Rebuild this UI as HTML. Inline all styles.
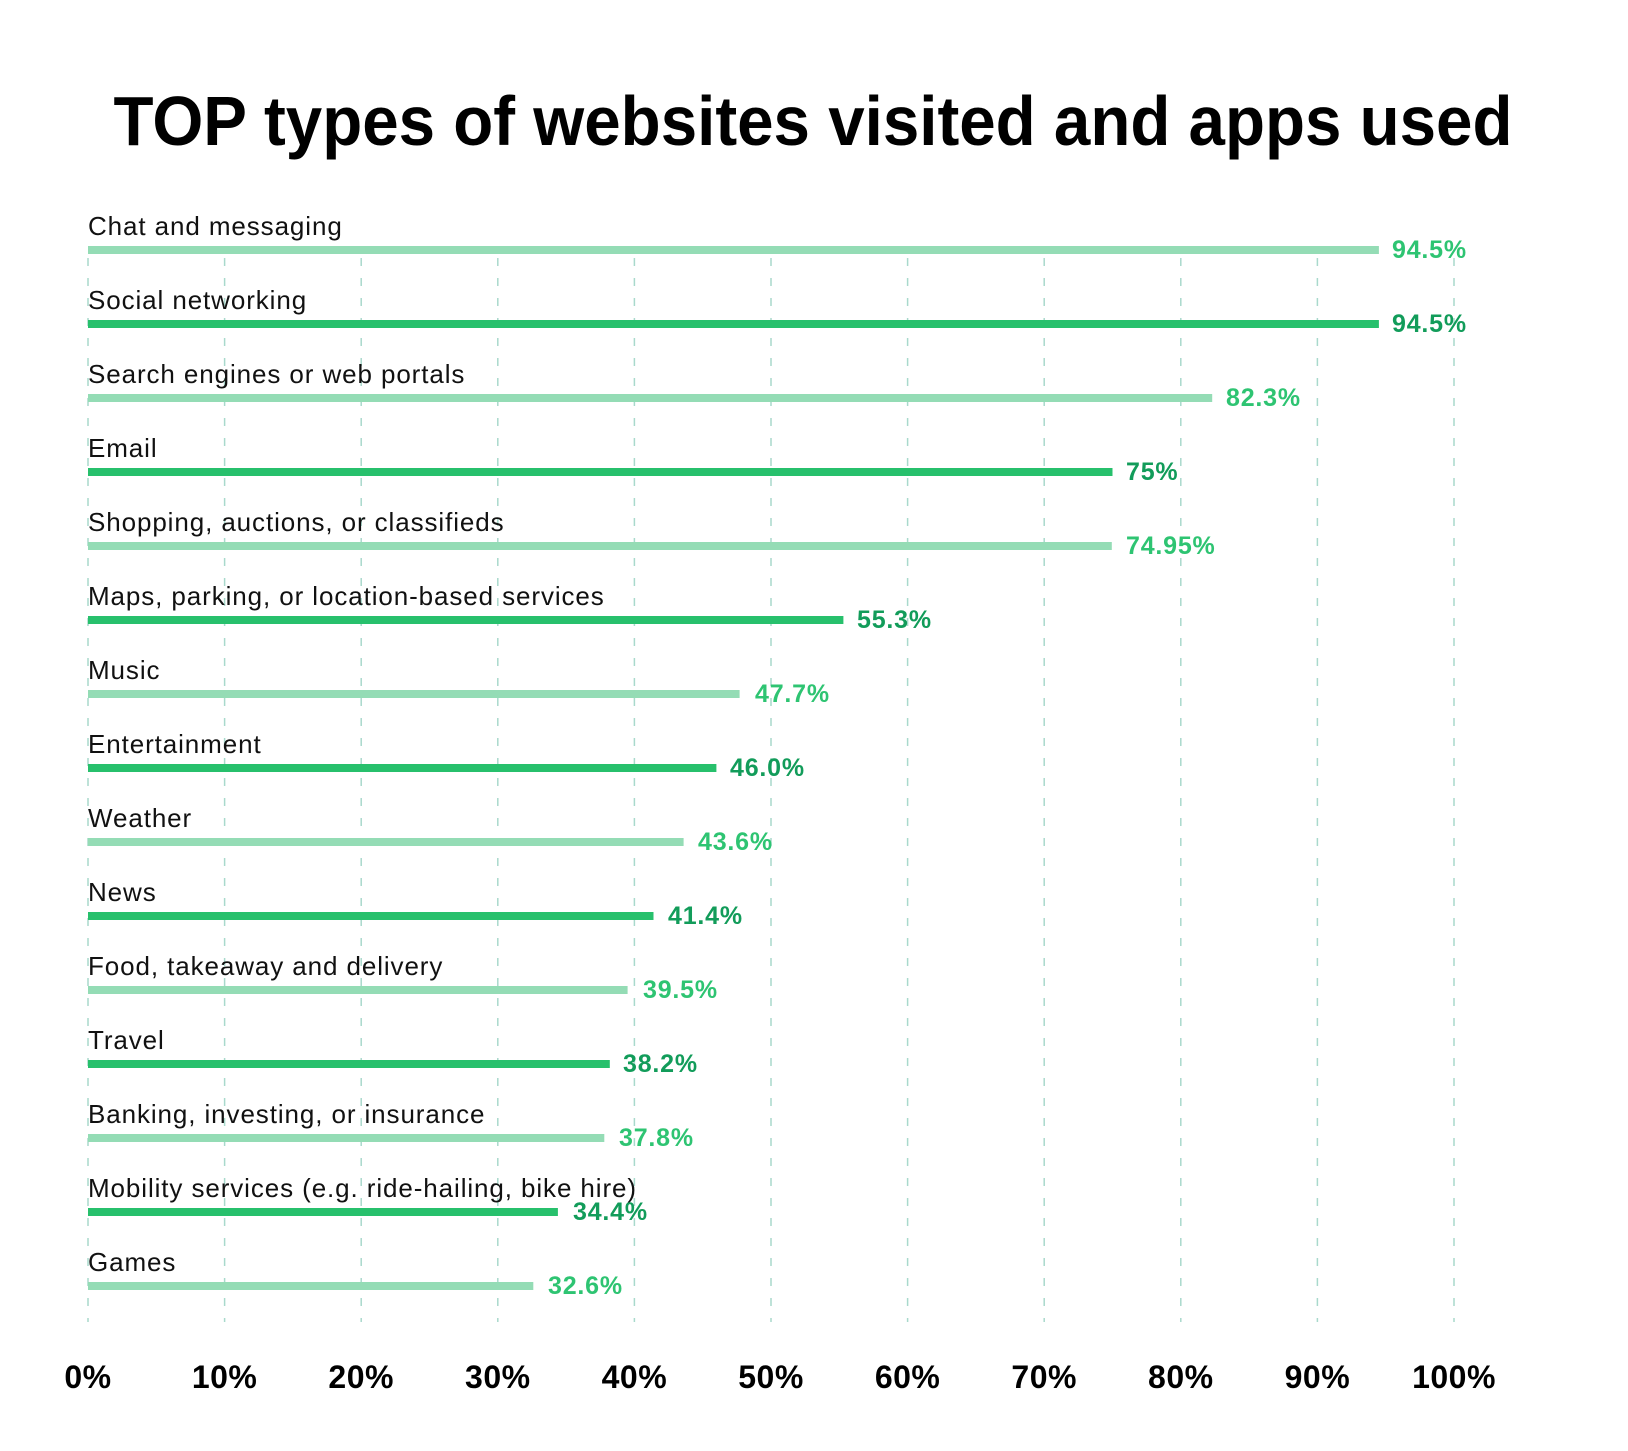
<!DOCTYPE html>
<html><head><meta charset="utf-8"><style>
html,body{margin:0;padding:0;background:#fff}
svg{display:block}
.l{font-family:"Liberation Sans",sans-serif;font-size:26px;letter-spacing:0.9px;fill:#111}
.v{font-family:"Liberation Sans",sans-serif;font-size:25px;font-weight:bold;letter-spacing:0.8px}
.a{font-family:"Liberation Sans",sans-serif;font-size:32px;font-weight:bold;fill:#000;text-anchor:middle;letter-spacing:0.5px}
.lt{fill:#2ec472}.dk{fill:#129c5a}
</style></head><body>
<svg width="1628" height="1451" viewBox="0 0 1628 1451" xmlns="http://www.w3.org/2000/svg">
<text x="813" y="145" text-anchor="middle" font-family="Liberation Sans, sans-serif" font-weight="bold" font-size="70" textLength="1399" lengthAdjust="spacingAndGlyphs" fill="#000">TOP types of websites visited and apps used</text>
<g stroke="#a9d9cc" stroke-width="1.5" stroke-dasharray="8 12">
<line x1="88" y1="258" x2="88" y2="1322"/><line x1="224.6" y1="258" x2="224.6" y2="1322"/><line x1="361.2" y1="258" x2="361.2" y2="1322"/><line x1="497.8" y1="258" x2="497.8" y2="1322"/><line x1="634.4" y1="258" x2="634.4" y2="1322"/><line x1="771" y1="258" x2="771" y2="1322"/><line x1="907.6" y1="258" x2="907.6" y2="1322"/><line x1="1044.2" y1="258" x2="1044.2" y2="1322"/><line x1="1180.8" y1="258" x2="1180.8" y2="1322"/><line x1="1317.4" y1="258" x2="1317.4" y2="1322"/><line x1="1454" y1="258" x2="1454" y2="1322"/>
</g>
<g>
<rect x="88" y="246" width="1290.9" height="8" fill="#94dcb5"/>
<rect x="88" y="320" width="1290.9" height="8" fill="#27c06c"/>
<rect x="88" y="394" width="1124.2" height="8" fill="#94dcb5"/>
<rect x="88" y="468" width="1024.5" height="8" fill="#27c06c"/>
<rect x="88" y="542" width="1023.8" height="8" fill="#94dcb5"/>
<rect x="88" y="616" width="755.4" height="8" fill="#27c06c"/>
<rect x="88" y="690" width="651.6" height="8" fill="#94dcb5"/>
<rect x="88" y="764" width="628.4" height="8" fill="#27c06c"/>
<rect x="88" y="838" width="595.6" height="8" fill="#94dcb5"/>
<rect x="88" y="912" width="565.5" height="8" fill="#27c06c"/>
<rect x="88" y="986" width="539.6" height="8" fill="#94dcb5"/>
<rect x="88" y="1060" width="521.8" height="8" fill="#27c06c"/>
<rect x="88" y="1134" width="516.3" height="8" fill="#94dcb5"/>
<rect x="88" y="1208" width="469.9" height="8" fill="#27c06c"/>
<rect x="88" y="1282" width="445.3" height="8" fill="#94dcb5"/>
</g>
<g class="l">
<text x="88" y="235">Chat and messaging</text>
<text x="88" y="309">Social networking</text>
<text x="88" y="383">Search engines or web portals</text>
<text x="88" y="457">Email</text>
<text x="88" y="531">Shopping, auctions, or classifieds</text>
<text x="88" y="605">Maps, parking, or location-based services</text>
<text x="88" y="679">Music</text>
<text x="88" y="753">Entertainment</text>
<text x="88" y="827">Weather</text>
<text x="88" y="901">News</text>
<text x="88" y="975">Food, takeaway and delivery</text>
<text x="88" y="1049">Travel</text>
<text x="88" y="1123">Banking, investing, or insurance</text>
<text x="88" y="1197">Mobility services (e.g. ride-hailing, bike hire)</text>
<text x="88" y="1271">Games</text>
</g>
<g class="v">
<text class="lt" x="1392" y="258">94.5%</text>
<text class="dk" x="1392" y="332">94.5%</text>
<text class="lt" x="1226" y="406">82.3%</text>
<text class="dk" x="1126" y="480">75%</text>
<text class="lt" x="1126" y="554">74.95%</text>
<text class="dk" x="857" y="628">55.3%</text>
<text class="lt" x="755" y="702">47.7%</text>
<text class="dk" x="730" y="776">46.0%</text>
<text class="lt" x="698" y="850">43.6%</text>
<text class="dk" x="668" y="924">41.4%</text>
<text class="lt" x="643" y="998">39.5%</text>
<text class="dk" x="623" y="1072">38.2%</text>
<text class="lt" x="619" y="1146">37.8%</text>
<text class="dk" x="573" y="1220">34.4%</text>
<text class="lt" x="548" y="1294">32.6%</text>
</g>
<g class="a">
<text x="88" y="1388">0%</text><text x="224.6" y="1388">10%</text><text x="361.2" y="1388">20%</text><text x="497.8" y="1388">30%</text><text x="634.4" y="1388">40%</text><text x="771" y="1388">50%</text><text x="907.6" y="1388">60%</text><text x="1044.2" y="1388">70%</text><text x="1180.8" y="1388">80%</text><text x="1317.4" y="1388">90%</text><text x="1454" y="1388">100%</text>
</g>
</svg>
</body></html>
